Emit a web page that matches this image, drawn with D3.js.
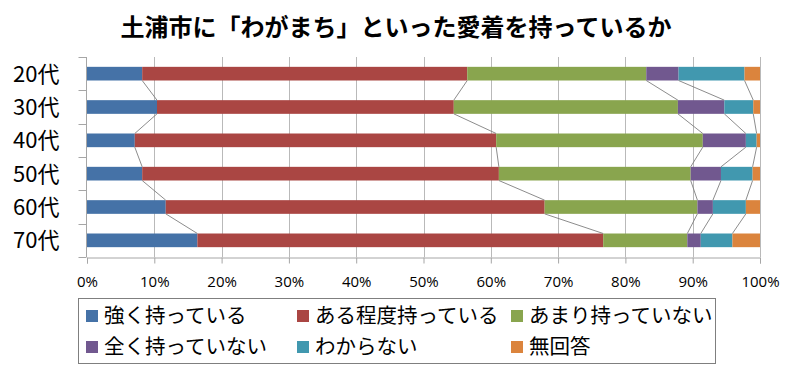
<!DOCTYPE html>
<html>
<head>
<meta charset="utf-8">
<script src="https://cdn.jsdelivr.net/npm/d3@7"></script>
<style>
  body { margin: 0; background: #fff; }
  svg { display: block; font-family: "Noto Sans CJK JP", "Noto Sans", sans-serif; }
  .grid line { stroke: #b9b9b9; }
  .axis path, .axis line { stroke: #a6a6a6; }
  .axis text { fill: #000; }
</style>
</head>
<body>
<svg id="chart"></svg>
<script>
const title = "土浦市に「わがまち」といった愛着を持っているか";

const ages = ["20代", "30代", "40代", "50代", "60代", "70代"];
const answers = ["強く持っている", "ある程度持っている", "あまり持っていない", "全く持っていない", "わからない", "無回答"];
const colors = ["#4572a7", "#aa4643", "#89a54e", "#71588f", "#4198af", "#db843d"];

// percent shares per age group, in the order of `answers`
const strong   = [8.2, 10.4, 7.1, 8.2, 11.7, 16.4];
const some     = [48.3, 44.1, 53.7, 53.0, 56.3, 60.3];
const little   = [26.6, 33.3, 30.7, 28.5, 22.7, 12.5];
const none     = [4.8, 6.9, 6.4, 4.5, 2.3, 2.0];
const unknown  = [9.8, 4.3, 1.6, 4.7, 4.9, 4.7];
const noAnswer = [2.3, 1.0, 0.5, 1.1, 2.1, 4.1];

const xTicks = [0, 0.1, 0.2, 0.3, 0.4, 0.5, 0.6, 0.7, 0.8, 0.9, 1];

const width = 794, height = 372;
const margin = {top: 57, right: 33, bottom: 115, left: 87};

const series = [strong, some, little, none, unknown, noAnswer];
const rows = ages.map((age, i) => {
  const row = {age};
  answers.forEach((a, j) => row[a] = series[j][i]);
  return row;
});

const stack = d3.stack().keys(answers).offset(d3.stackOffsetExpand);
const layers = stack(rows);

const svg = d3.select("#chart")
  .attr("width", width)
  .attr("height", height);

const x = d3.scaleLinear()
  .domain([0, 1])
  .range([margin.left, width - margin.right - 1]);

const y = d3.scaleBand()
  .domain(ages)
  .range([margin.top, height - margin.bottom])
  .paddingInner(0.59)
  .paddingOuter(0.295);

// title
svg.append("text")
  .attr("x", 396)
  .attr("y", 36)
  .attr("text-anchor", "middle")
  .attr("font-size", 24)
  .attr("font-weight", "bold")
  .text(title);

// vertical gridlines
svg.append("g")
  .classed("grid", true)
  .selectAll("line")
  .data(xTicks.slice(1))
  .join("line")
  .attr("x1", d => Math.round(x(d)) + 0.5)
  .attr("x2", d => Math.round(x(d)) + 0.5)
  .attr("y1", margin.top)
  .attr("y2", height - margin.bottom);

// bars
svg.append("g")
  .selectAll("g")
  .data(layers)
  .join("g")
  .attr("fill", (_, i) => colors[i])
  .selectAll("rect")
  .data(d => d)
  .join("rect")
  .attr("x", d => x(d[0]))
  .attr("width", d => x(d[1]) - x(d[0]))
  .attr("y", d => y(d.data.age))
  .attr("height", y.bandwidth());

// series lines between neighbouring bars
const links = [];
layers.slice(0, -1).forEach(layer => {
  for (let i = 0; i < layer.length - 1; i++) {
    links.push({from: layer[i], to: layer[i + 1]});
  }
});
svg.append("g")
  .selectAll("line")
  .data(links)
  .join("line")
  .attr("x1", d => x(d.from[1]))
  .attr("y1", d => y(d.from.data.age) + y.bandwidth())
  .attr("x2", d => x(d.to[1]))
  .attr("y2", d => y(d.to.data.age))
  .attr("stroke", "#7f7f7f")
  .attr("stroke-width", 0.9);

// x axis
const xAxis = svg.append("g")
  .classed("axis", true)
  .attr("transform", `translate(0,${height - margin.bottom + 0.5})`)
  .call(d3.axisBottom(x)
    .tickValues(xTicks)
    .tickFormat(d3.format(".0%"))
    .tickSizeOuter(0)
    .tickSize(6)
    .tickPadding(13));
xAxis.selectAll("text").attr("font-size", 15).attr("font-family", "\"Open Sans\", sans-serif");

// y axis with ticks at band edges
const yAxis = svg.append("g")
  .classed("axis", true)
  .attr("transform", `translate(${margin.left - 0.5},0)`);
yAxis.append("line")
  .attr("y1", margin.top)
  .attr("y2", height - margin.bottom);
yAxis.selectAll("line.tick")
  .data(d3.range(ages.length + 1))
  .join("line")
  .attr("class", "tick")
  .attr("x1", -8)
  .attr("x2", 0)
  .attr("y1", i => Math.round(margin.top + i * y.step()) + 0.5)
  .attr("y2", i => Math.round(margin.top + i * y.step()) + 0.5);
yAxis.selectAll("text")
  .data(ages)
  .join("text")
  .attr("x", -27)
  .attr("y", d => y(d) + y.bandwidth() / 2)
  .attr("dy", "0.36em")
  .attr("text-anchor", "end")
  .attr("font-size", 22)
  .attr("fill", "#000")
  .text(d => d);

// legend
const legend = svg.append("g");
legend.append("rect")
  .attr("x", 78.5)
  .attr("y", 298.5)
  .attr("width", 637)
  .attr("height", 65)
  .attr("fill", "none")
  .attr("stroke", "#7f7f7f");

const colX = [86, 297, 511];
const rowY = [316, 347];
const item = legend.selectAll("g")
  .data(answers)
  .join("g")
  .attr("transform", (_, i) => `translate(${colX[i % 3]},${rowY[Math.floor(i / 3)]})`);
item.append("rect")
  .attr("x", 0)
  .attr("y", -6)
  .attr("width", 12)
  .attr("height", 12)
  .attr("fill", (_, i) => colors[i]);
item.append("text")
  .attr("x", 18)
  .attr("dy", "0.36em")
  .attr("font-size", 20.5)
  .text(d => d);
</script>
</body>
</html>
